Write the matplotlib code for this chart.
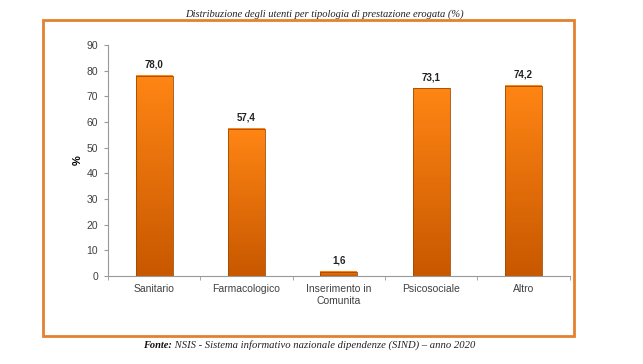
import numpy as np
import matplotlib.pyplot as plt
from matplotlib.colors import LinearSegmentedColormap
from matplotlib.patches import Rectangle

categories = ["Sanitario", "Farmacologico", "Inserimento in\nComunita", "Psicosociale", "Altro"]
values = [78.0, 57.4, 1.6, 73.1, 74.2]
value_labels = ["78,0", "57,4", "1,6", "73,1", "74,2"]

fig = plt.figure(figsize=(6.43, 3.64), dpi=100)
ax = fig.add_axes([0.168, 0.242, 0.718, 0.634])

x = np.arange(len(categories))
width = 0.4
cmap = LinearSegmentedColormap.from_list("bar", ["#c85800", "#ff8514"])
grad = np.linspace(0, 1, 100).reshape(-1, 1)

# gradient bars
for xi, v, lab in zip(x, values, value_labels):
    ax.imshow(grad, extent=[xi - width / 2, xi + width / 2, 0, v], origin="lower",
              aspect="auto", cmap=cmap, zorder=2)
    ax.add_patch(Rectangle((xi - width / 2, 0), width, v, fill=False,
                           edgecolor="#a04a00", lw=0.6, zorder=3))
    ax.text(xi, v + 2.5, lab, ha="center", va="bottom", fontsize=7,
            fontweight="bold", color="#222222", family="Liberation Sans")

ax.set_xlim(-0.5, len(categories) - 0.5)
ax.set_ylim(0, 90)
ax.set_yticks(range(0, 91, 10))
ax.set_xticks(x)
ax.set_xticklabels(categories, fontsize=7.5, color="#404040", family="Liberation Sans")
ax.set_xticks(np.arange(-0.5, len(categories), 1), minor=True)
ax.tick_params(axis="x", which="major", length=0, pad=6)
ax.tick_params(axis="x", which="minor", length=3, color="#999999")
ax.tick_params(axis="y", length=3, color="#999999", labelsize=7.5, labelcolor="#404040", pad=4)
for t in ax.get_yticklabels():
    t.set_family("Liberation Sans")
for s in ["top", "right"]:
    ax.spines[s].set_visible(False)
for s in ["left", "bottom"]:
    ax.spines[s].set_color("#999999")
    ax.spines[s].set_linewidth(0.8)

ax.set_ylabel("%", fontsize=8, fontweight="bold", family="Liberation Sans", labelpad=3)

# orange frame
fig.patches.append(Rectangle((0.067, 0.077), 0.826, 0.868, transform=fig.transFigure,
                             fill=False, edgecolor="#e3812f", lw=2))

fig.text(0.505, 0.962, "Distribuzione degli utenti per tipologia di prestazione erogata (%)",
         ha="center", va="center", fontsize=7.6, style="italic", family="Liberation Serif",
         color="#222222")
fonte = fig.text(0.223, 0.052, "Fonte:", ha="left", va="center", fontsize=7.5, style="italic",
                 fontweight="bold", family="Liberation Serif", color="#111111")
ax.annotate(" NSIS - Sistema informativo nazionale dipendenze (SIND) – anno 2020",
            xy=(1, 0.5), xycoords=fonte, ha="left", va="center", fontsize=7.7,
            style="italic", family="Liberation Serif", color="#222222",
            annotation_clip=False)

fig.savefig("out.png", dpi=100)
